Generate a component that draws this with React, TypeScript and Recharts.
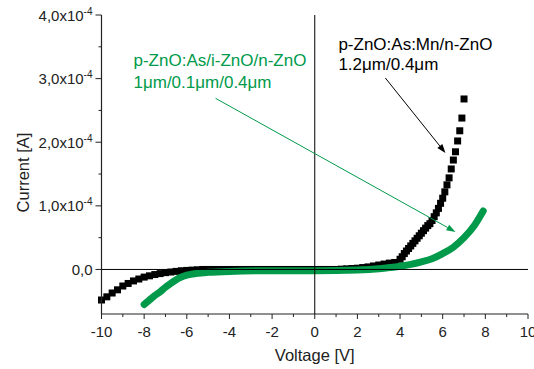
import React from 'react';
import { ComposedChart, Scatter, Line, XAxis, YAxis, ReferenceLine } from 'recharts';

const FONT = "'Liberation Sans', Arial, sans-serif";
const GREEN = '#009a4a';
const INK = '#222';

// p-ZnO:As:Mn/n-ZnO, voltage [V] and current [1e-4 A]
const mnVoltage = [
  -10, -9.75, -9.5, -9.25, -9, -8.75, -8.5, -8.25, -8, -7.75, -7.5, -7.25, -7, -6.75, -6.5, -6.25,
  -6, -5.75, -5.5, -5.25, -5, -4.75, -4.5, -4.25, -4, -3.75, -3.5, -3.25, -3, -2.75, -2.5, -2.25,
  -2, -1.75, -1.5, -1.25, -1, -0.75, -0.5, -0.25, 0, 0.25, 0.5, 0.75, 1, 1.25, 1.5, 1.75,
  2, 2.25, 2.5, 2.75, 3, 3.25, 3.5, 3.75,
  4, 4.1, 4.2, 4.3, 4.4, 4.5, 4.6, 4.7, 4.8, 4.9, 5, 5.1, 5.2, 5.3, 5.4, 5.5,
  5.6, 5.7, 5.8, 5.9, 6, 6.1, 6.2, 6.3, 6.4, 6.5, 6.6, 6.7, 6.8, 6.9, 7,
];
const mnCurrent = [
  -0.48, -0.43, -0.37, -0.32, -0.26, -0.22, -0.18, -0.15, -0.12, -0.1, -0.08, -0.065, -0.05, -0.04, -0.03, -0.02,
  -0.015, -0.01, -0.005, 0, 0, 0, 0, 0, 0, 0, 0, 0, 0, 0, 0, 0,
  0, 0, 0, 0, 0, 0, 0, 0, 0, 0, 0, 0, 0, 0.005, 0.01, 0.015,
  0.02, 0.03, 0.04, 0.055, 0.07, 0.085, 0.1, 0.11,
  0.16, 0.2, 0.25, 0.29, 0.33, 0.37, 0.41, 0.45, 0.49, 0.53, 0.57, 0.61, 0.65, 0.69, 0.72, 0.77,
  0.83, 0.89, 0.96, 1.04, 1.12, 1.22, 1.33, 1.44, 1.58, 1.72, 1.85, 2.02, 2.18, 2.38, 2.68,
];

// p-ZnO:As/i-ZnO/n-ZnO
const insVoltage = [-8, -7.75, -7.5, -7.25, -7, -6.75, -6.5, -6.25, -6, -5.5, -5, -4, -2, 0, 2, 3, 3.5, 4, 4.5, 5, 5.5, 6, 6.5, 7, 7.5, 7.9];
const insCurrent = [-0.55, -0.48, -0.41, -0.35, -0.28, -0.22, -0.16, -0.12, -0.09, -0.06, -0.045, -0.03, -0.02, -0.02, -0.01, 0.01, 0.03, 0.05, 0.08, 0.12, 0.17, 0.25, 0.35, 0.5, 0.7, 0.92];

const xTicks = [-10, -9, -8, -7, -6, -5, -4, -3, -2, -1, 0, 1, 2, 3, 4, 5, 6, 7, 8, 9, 10];
const yTicks = [-0.5, 0, 0.5, 1, 1.5, 2, 2.5, 3, 3.5, 4];

const mnData = mnVoltage.map((v, i) => ({ v, i: mnCurrent[i] }));
const insData = insVoltage.map((v, i) => ({ v, i: insCurrent[i] }));

const isMajorX = (v: number) => v % 2 === 0;
const isMajorY = (v: number) => Number.isInteger(v);

const BottomTick = (p: any) => {
  const { x, y, payload } = p;
  const major = isMajorX(payload.value);
  return (
    <g>
      <line x1={x} x2={x} y1={y} y2={y + (major ? 5 : 3)} stroke={INK} />
      {major && (
        <text x={x} y={y + 23} textAnchor="middle" fontSize={15} fontFamily={FONT} fill={INK}>
          {payload.value}
        </text>
      )}
    </g>
  );
};

const TopTick = (p: any) => {
  const { x, y, payload } = p;
  return <line x1={x} x2={x} y1={y} y2={y + (isMajorX(payload.value) ? 5 : 3)} stroke={INK} />;
};

const LeftTick = (p: any) => {
  const { x, y, payload } = p;
  const v = payload.value;
  const major = isMajorY(v);
  return (
    <g>
      <line x1={x} x2={x - (major ? 6 : 3)} y1={y} y2={y} stroke={INK} />
      {major && (
        <text x={x - 9} y={y + 5.5} textAnchor="end" fontSize={15} fontFamily={FONT} fill={INK}>
          {v === 0 ? '0,0' : v.toFixed(1).replace('.', ',') + 'x10'}
          {v !== 0 && (
            <tspan dy={-6} fontSize={10}>
              -4
            </tspan>
          )}
        </text>
      )}
    </g>
  );
};

const RightTick = (p: any) => {
  const { x, y, payload } = p;
  return <line x1={x} x2={x - (isMajorY(payload.value) ? 5 : 3)} y1={y} y2={y} stroke={INK} />;
};

const arrow = (color: string) => (p: any) => {
  const { x1, y1, x2, y2 } = p;
  const a = Math.atan2(y2 - y1, x2 - x1);
  const len = 9;
  const w = 3.2;
  const bx = x2 - len * Math.cos(a);
  const by = y2 - len * Math.sin(a);
  const pts = `${x2},${y2} ${bx - w * Math.sin(a)},${by + w * Math.cos(a)} ${bx + w * Math.sin(a)},${by - w * Math.cos(a)}`;
  return (
    <g>
      <line x1={x1} y1={y1} x2={bx} y2={by} stroke={color} strokeWidth={1} />
      <polygon points={pts} fill={color} />
    </g>
  );
};

const note = (lines: string[], color: string, gap: number) => (p: any) => (
  <text x={p.x1} y={p.y1} fontSize={17} fontFamily={FONT} fill={color}>
    {lines.map((t, k) => (
      <tspan key={k} x={p.x1} dy={k === 0 ? 0 : gap}>
        {t}
      </tspan>
    ))}
  </text>
);

const square = (p: any) => <rect x={p.cx - 3.5} y={p.cy - 3.5} width={7} height={7} fill="#000" />;

export default function App() {
  return (
    <div style={{ position: 'absolute', left: 0, top: 0, background: '#fff' }}>
      <ComposedChart width={534} height={369} margin={{ top: 15, right: 6, bottom: 0, left: 0 }}>
        <XAxis
          type="number"
          dataKey="v"
          domain={[-10, 10]}
          ticks={xTicks}
          interval={0}
          height={55}
          tickSize={0}
          tickMargin={0}
          tickLine={false}
          axisLine={{ stroke: INK, strokeWidth: 1.2 }}
          tick={(p: any) => <BottomTick {...p} />}
          label={(p: any) => {
            const vb = p.viewBox;
            return (
              <text x={vb.x + vb.width / 2} y={vb.y + vb.height - 8} textAnchor="middle" fontSize={16.5} fontFamily={FONT} fill={INK}>
                Voltage [V]
              </text>
            );
          }}
        />
        <XAxis
          xAxisId="top"
          orientation="top"
          type="number"
          domain={[-10, 10]}
          allowDataOverflow
          ticks={xTicks}
          interval={0}
          height={0}
          tickSize={0}
          tickMargin={0}
          tickLine={false}
          axisLine={{ stroke: INK }}
          tick={(p: any) => <TopTick {...p} />}
        />
        <YAxis
          type="number"
          dataKey="i"
          domain={[-0.7, 4]}
          allowDataOverflow
          ticks={yTicks}
          interval={0}
          width={101.5}
          tickSize={0}
          tickMargin={0}
          tickLine={false}
          axisLine={{ stroke: INK, strokeWidth: 1.2 }}
          tick={(p: any) => <LeftTick {...p} />}
          label={(p: any) => {
            const vb = p.viewBox;
            const cx = vb.x + 22.5;
            const cy = vb.y + vb.height / 2 + 8;
            return (
              <text x={cx} y={cy} transform={`rotate(-90 ${cx} ${cy})`} textAnchor="middle" dominantBaseline="central" fontSize={16.5} fontFamily={FONT} fill={INK}>
                Current [A]
              </text>
            );
          }}
        />
        <YAxis
          yAxisId="right"
          orientation="right"
          type="number"
          domain={[-0.7, 4]}
          allowDataOverflow
          ticks={yTicks}
          interval={0}
          width={0}
          tickSize={0}
          tickMargin={0}
          tickLine={false}
          axisLine={{ stroke: '#666', strokeWidth: 2 }}
          tick={(p: any) => <RightTick {...p} />}
        />
        <Scatter data={mnData} dataKey="i" shape={square} isAnimationActive={false} zIndex={300} />
        <Line
          data={insData}
          dataKey="i"
          type="monotone"
          stroke={GREEN}
          strokeWidth={7}
          strokeLinecap="round"
          dot={false}
          activeDot={false}
          isAnimationActive={false}
          zIndex={650}
        />
        <ReferenceLine y={0} stroke="#000" strokeWidth={1} zIndex={700} />
        <ReferenceLine x={0} stroke="#000" strokeWidth={1} zIndex={700} />
        <ReferenceLine segment={[{ x: 3.31, y: 3.01 }, { x: 6.13, y: 1.83 }]} shape={arrow('#000')} zIndex={700} />
        <ReferenceLine segment={[{ x: -4.65, y: 2.69 }, { x: 6.6, y: 0.59 }]} shape={arrow(GREEN)} zIndex={700} />
        <ReferenceLine segment={[{ x: 1.11, y: 3.45 }, { x: 1.11, y: 3.45 }]} shape={note(['p-ZnO:As:Mn/n-ZnO', '1.2μm/0.4μm'], '#000', 20)} zIndex={700} />
        <ReferenceLine segment={[{ x: -8.5, y: 3.2 }, { x: -8.5, y: 3.2 }]} shape={note(['p-ZnO:As/i-ZnO/n-ZnO', '1μm/0.1μm/0.4μm'], GREEN, 22.6)} zIndex={700} />
      </ComposedChart>
    </div>
  );
}
